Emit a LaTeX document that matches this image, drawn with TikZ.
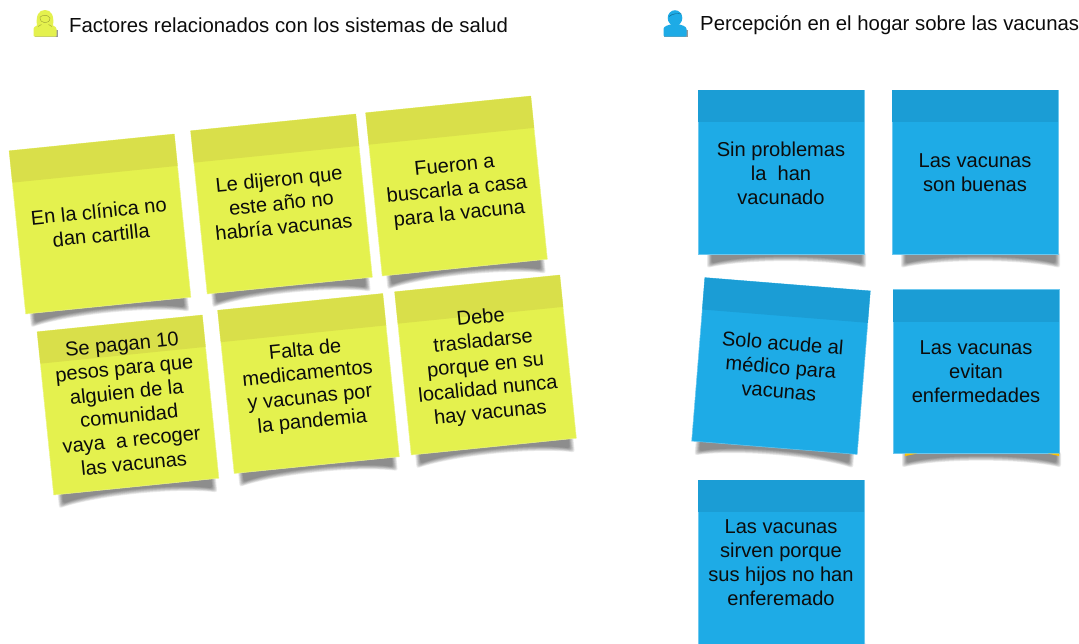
\documentclass[tikz,border=0pt]{standalone}
\usepackage{fontspec}
\setmainfont{Liberation Sans}
\definecolor{yl}{HTML}{E4F14E}
\definecolor{ylh}{HTML}{D9DF4A}
\definecolor{bl}{HTML}{1EABE6}
\definecolor{blh}{HTML}{1B9DD5}
\definecolor{ink}{HTML}{0C0C0C}
\definecolor{gold}{HTML}{FFC000}
\tikzset{
  notetext/.style={align=center,font=\fontsize{20.1}{24}\selectfont,text=ink,inner sep=0pt},
  headtext/.style={anchor=west,font=\fontsize{20.35}{24}\selectfont,text=ink,inner sep=0pt},
}
% #1 name, #2 cx, #3 cy, #4 angle, #5 body colour, #6 header colour, #7 text offset, #8 text, #9 shadow x shift
\newcommand{\sticky}[9]{%
\begin{scope}[shift={(#2,-#3)},rotate=#4]
  \foreach \e in {3,2.25,1.5,0.75,0,-0.75,-1.5}{
    \fill[black,opacity=0.08,rounded corners=2.5,xshift=#9]
      (-76-\e,-80) -- (-76-\e,-93-\e) .. controls (-40,-84-\e) and (40,-84-\e) .. (77+\e,-93-\e) -- (77+\e,-80) -- cycle;
  }
  \fill[#5,draw=#5!65!white,line width=0.5] (-83,-82) rectangle (83,82);
  \fill[#6] (-83,82) rectangle (83,50);
  \node[notetext,rotate=#4] (#1) at (#7) {#8};
\end{scope}}
\begin{document}
\begin{tikzpicture}[x=1pt,y=1pt]
\useasboundingbox (0,-643) rectangle (1079,0);
\clip (0,-643) rectangle (1079,0);
\fill[white] (0,-643) rectangle (1079,0);
% icons
\begin{scope}[shift={(45,-25)}]
  \fill[black!40] (-10.5,-12.3) -- (12.5,-12.3) -- (12.5,-5) -- (-10.5,-5) -- cycle;
  \fill[yl,rounded corners=1] (-11.5,-11.5) -- (-11.5,-5) .. controls (-11.5,-1) and (-6,0) .. (-4,1) -- (4,1) .. controls (6,0) and (11.5,-1) .. (11.5,-5) -- (11.5,-11.5) -- cycle;
  \fill[yl] (-8,-1) .. controls (-9.5,10) and (-6,15) .. (0,15) .. controls (6,15) and (9.5,10) .. (8,-1) -- cycle;
  \draw[ylh!70!black,line width=0.4] (-5,8) .. controls (-2,10) and (2,11) .. (5,7) (-5,8) .. controls (-5.5,0.5) and (5,0.5) .. (5,7);
  \draw[ylh!70!black,line width=0.4] (-7,-1.5) -- (-3.5,0.5) (7,-1.5) -- (3.5,0.5);
\end{scope}
\begin{scope}[shift={(675,-25)}]
  \fill[black!40] (-11,-12.3) -- (12.5,-12.3) -- (12.5,-5) -- (-11,-5) -- cycle;
  \fill[bl,rounded corners=1] (-11.5,-11.5) -- (-11.5,-5) .. controls (-11.5,-1) and (-6,0) .. (-3,1) -- (3,1) .. controls (6,0) and (11.5,-1) .. (11.5,-5) -- (11.5,-11.5) -- cycle;
  \fill[bl] (0,7) circle[x radius=7.3,y radius=7.8];
  \draw[blh!60!black,line width=0.4] (-6,8.5) .. controls (-2,12) and (3,11.5) .. (6.5,11);
\end{scope}
\node[headtext] (h1) at (69,-25) {Factores relacionados con los sistemas de salud};
\node[headtext] (h2) at (700,-25) {Percepción en el hogar sobre las vacunas};
% yellow notes
\sticky{y1}{100}{224}{5.8}{yl}{ylh}{0,1}{En la clínica no\\dan cartilla}{0}
\sticky{y2}{281.5}{204}{5.8}{yl}{ylh}{0,1}{Le dijeron que\\este año no\\habría vacunas}{0}
\sticky{y3}{456.5}{186}{5.8}{yl}{ylh}{0,-5}{Fueron a\\buscarla a casa\\para la vacuna}{0}
\sticky{y4}{128}{405}{5.8}{yl}{ylh}{0,1}{Se pagan 10\\pesos para que\\alguien de la\\comunidad\\vaya\ \ a recoger\\las vacunas}{0}
\sticky{y5}{308.5}{383.5}{5.8}{yl}{ylh}{0,-3}{Falta de\\medicamentos\\y vacunas por\\la pandemia}{0}
\sticky{y6}{485.5}{365}{5.8}{yl}{ylh}{0,-1}{Debe\\trasladarse\\porque en su\\localidad nunca\\hay vacunas}{0}
% blue notes
\sticky{b1}{781}{172}{0}{bl}{blh}{0,-1}{Sin problemas\\la\ \ han\\vacunado}{5}
\sticky{b2}{975}{172}{0}{bl}{blh}{0,-1}{Las vacunas\\son buenas}{5}
\sticky{b3}{781}{366}{-4.6}{bl}{blh}{0,-1}{Solo acude al\\médico para\\vacunas}{0}
\sticky{b4}{976}{371.5}{0}{bl}{blh}{0,0}{Las vacunas\\evitan\\enfermedades}{5}
\sticky{b5}{781}{562}{0}{bl}{blh}{0,-1}{Las vacunas\\sirven porque\\sus hijos no han\\enferemado}{5}
% a note beneath the fourth blue one shows only at its corners
\fill[gold] (905,-453.6) -- (917,-453.6) -- (905,-456) -- cycle;
\fill[gold] (1048,-453.6) -- (1059,-453.6) -- (1059,-456) -- cycle;
\end{tikzpicture}
\end{document}
